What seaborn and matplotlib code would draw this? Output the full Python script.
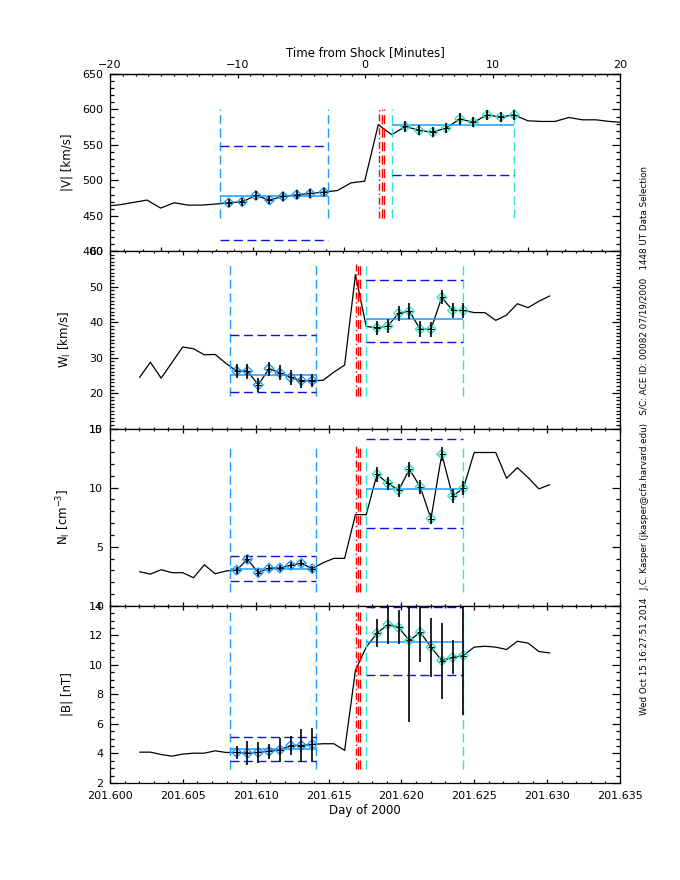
import matplotlib
matplotlib.use("Agg")
import matplotlib.pyplot as plt
from matplotlib.ticker import MultipleLocator, FixedLocator, FormatStrFormatter, NullFormatter
import numpy as np
import seaborn as sns


# 64-s samples, day of year 2000
TIME_DAY = [
    201.602026, 201.602767, 201.603508, 201.604249, 201.604989, 201.605730,
    201.606471, 201.607212, 201.607952, 201.608693, 201.609434, 201.610175,
    201.610915, 201.611656, 201.612397, 201.613138, 201.613878, 201.614619,
    201.615360, 201.616101, 201.616841, 201.617582, 201.618323, 201.619064,
    201.619804, 201.620545, 201.621286, 201.622027, 201.622767, 201.623508,
    201.624249, 201.624990, 201.625730, 201.626471, 201.627212, 201.627953,
    201.628693, 201.629434, 201.630175,
]

V_KMS = [
    463.7, 465.6, 468.9, 472.2, 460.9, 468.4, 465.1, 465.1, 466.5,
    468.4, 469.8, 478.7, 472.2, 477.3, 479.6, 481.5, 483.4,
    485.7, 496.5, 498.8, 578.4, 564.4,
    576.1, 570.4, 568.1, 573.7, 586.8, 581.7, 592.4, 589.2, 592.4,
    584.0, 583.1, 583.1, 588.7, 585.4, 585.4, 583.1, 581.7,
]

W_KMS = [
    24.4, 28.7, 24.2, 28.6, 33.0, 32.5, 30.8, 30.9, 28.4,
    26.2, 26.2, 22.3, 26.9, 25.7, 24.4, 23.5, 23.5,
    23.6, 25.9, 27.9, 53.4, 38.8,
    38.4, 38.9, 42.5, 43.1, 38.0, 38.0, 47.0, 43.3, 43.3,
    42.7, 42.7, 40.5, 42.0, 45.2, 44.1, 45.9, 47.4,
]

N_CM3 = [
    2.88, 2.68, 3.05, 2.80, 2.80, 2.37, 3.47, 2.71, 2.94,
    3.02, 3.93, 2.80, 3.19, 3.19, 3.42, 3.59, 3.14,
    3.64, 4.01, 4.01, 7.71, 7.71,
    11.13, 10.37, 9.77, 11.55, 10.06, 7.37, 12.82, 9.29, 9.94,
    12.97, 12.97, 12.97, 10.79, 11.69, 10.85, 9.89, 10.25,
]

B_NT = [
    4.09, 4.09, 3.93, 3.82, 3.96, 4.02, 4.02, 4.18, 4.07,
    4.07, 4.02, 4.07, 4.16, 4.25, 4.54, 4.54, 4.61,
    4.66, 4.66, 4.21, 9.62, 11.20,
    12.14, 12.73, 12.53, 11.65, 12.21, 11.20, 10.29, 10.50, 10.63,
    11.20, 11.26, 11.20, 11.04, 11.60, 11.47, 10.90, 10.81,
]

# selected samples (indices into the arrays above)
UP_IDX = list(range(9, 17))
DN_IDX = list(range(22, 31))

V_ERR_UP = [5.9, 5.9, 6.3, 5.9, 5.9, 6.3, 5.9, 5.9]
V_ERR_DN = [8.2, 7.0, 7.0, 7.5, 8.2, 7.0, 7.5, 7.0, 7.0]
W_ERR_UP = [2.0, 2.1, 2.0, 2.0, 2.1, 2.2, 2.0, 1.9]
W_ERR_DN = [2.0, 2.0, 2.1, 2.2, 2.2, 2.1, 2.0, 2.2, 2.2]
N_ERR_UP = [0.3, 0.35, 0.3, 0.25, 0.25, 0.25, 0.25, 0.25]
N_ERR_DN = [0.64, 0.56, 0.56, 0.62, 0.56, 0.47, 0.6, 0.56, 0.6]
B_ERR_UP = [0.42, 0.8, 0.7, 0.5, 0.8, 0.67, 1.1, 1.1]
B_ERR_DN = [0.96, 1.3, 1.15, 5.5, 2.0, 2.0, 2.57, 1.15, 4.0]

# mean, upper, lower of each selection
V_UP = [477.3, 548.4, 415.5]
V_DN = [577.9, 656.0, 507.7]
W_UP = [25.0, 36.5, 20.3]
W_DN = [41.0, 51.9, 34.3]
N_UP = [3.14, 4.24, 2.12]
N_DN = [9.92, 14.15, 6.55]
B_UP = [4.30, 5.13, 3.48]
B_DN = [11.53, 13.90, 9.30]

# vertical extent of the marker lines in each panel
V_SPAN = [447.4, 600.0]
W_SPAN = [19.1, 56.3]
N_SPAN = [1.2, 13.6]
B_SPAN = [2.92, 13.56]

SHOCK_DAY = 201.61612
UP_EDGES = [201.60824, 201.61411]
DN_EDGES = [201.617582, 201.624249]
RED_TIMES = [201.61686, 201.61702, 201.61716]

MINUTE_TICKS = [-20, -10, 0, 10, 20]
DAY_TICKS = [201.605, 201.610, 201.615, 201.620, 201.625]

RIGHT_TEXT = ("Wed Oct 15 16:27:51 2014   J.C. Kasper (jkasper@cfa.harvard.edu)   "
              "S/C: ACE ID: 00082 07/19/2000   1448 UT Data Selection")

UP_COLOR = "#1e9bff"
DN_COLOR = "#2ee6c8"
DASH_BLUE = "#1010e0"
DASHED = (0, (6.5, 3.2))
DASHDOT = (0, (5, 2, 1, 2))


def to_minutes(days):
    return [(d - SHOCK_DAY) * 1440.0 for d in days]


def draw_panel(ax, xconv, values, err_up, err_dn, up_lv, dn_lv, span):

    x = xconv(TIME_DAY)

    sns.lineplot(x=x, y=values, color="k", lw=0.9, ax=ax,
                 estimator=None, sort=False)

    up_e = xconv(UP_EDGES)
    dn_e = xconv(DN_EDGES)

    # selection boundaries and shock times
    ax.vlines(up_e, span[0], span[1], colors=UP_COLOR, linestyles=DASHED, lw=1)
    ax.vlines(dn_e, span[0], span[1], colors=DN_COLOR, linestyles=DASHED, lw=1)
    red_x = xconv(RED_TIMES)
    for i, rx in enumerate(red_x):
        ax.vlines(rx, span[0], span[1], colors="red",
                  linestyles=DASHDOT if i == 0 else DASHED, lw=1)

    # mean and limits
    ax.hlines(up_lv[0], up_e[0], up_e[1], colors=UP_COLOR, lw=1.1)
    ax.hlines(up_lv[1:], up_e[0], up_e[1], colors=DASH_BLUE, linestyles=DASHED, lw=1)
    ax.hlines(dn_lv[0], dn_e[0], dn_e[1], colors=UP_COLOR, lw=1.1)
    ax.hlines(dn_lv[1:], dn_e[0], dn_e[1], colors=DASH_BLUE, linestyles=DASHED, lw=1)

    for idx, err, col in [(UP_IDX, err_up, UP_COLOR), (DN_IDX, err_dn, DN_COLOR)]:
        xs = [x[i] for i in idx]
        ys = [values[i] for i in idx]
        ax.scatter(xs, ys, marker="D", s=24, facecolors="none",
                   edgecolors=col, linewidths=1.0, zorder=3)
        ax.errorbar(xs, ys, yerr=err, fmt="+", color="k", ms=4, mew=0.8,
                    elinewidth=1.2, capsize=0, zorder=4)


def style_y(ax, lo, hi, major, minor, label):

    ax.set_ylim(lo, hi)
    ax.yaxis.set_major_locator(MultipleLocator(major))
    ax.yaxis.set_minor_locator(MultipleLocator(minor))
    ax.yaxis.set_major_formatter(FormatStrFormatter("%d"))
    ax.set_ylabel(label)
    ax.yaxis.set_label_coords(-0.072, 0.5)
    ax.tick_params(axis="y", which="both", direction="in", left=True, right=True)
    ax.tick_params(axis="y", which="major", length=6, width=0.9, pad=5)
    ax.tick_params(axis="y", which="minor", length=3.2, width=0.9)


def style_day_x(ax, labels):

    ax.set_xlim(201.600, 201.635)
    ax.xaxis.set_major_locator(MultipleLocator(0.005))
    ax.xaxis.set_minor_locator(MultipleLocator(0.001))
    ax.xaxis.set_major_formatter(FormatStrFormatter("%.3f"))
    ax.tick_params(axis="x", which="both", direction="in", top=True, bottom=True,
                   labelbottom=labels)
    ax.tick_params(axis="x", which="major", length=3, width=0.9, pad=6)
    ax.tick_params(axis="x", which="minor", length=1.6, width=0.9)


def make_figure():

    sns.set_style("ticks")
    plt.rcParams["font.family"] = ["DejaVu Sans"]
    plt.rcParams["font.size"] = 8
    plt.rcParams["axes.edgecolor"] = "black"
    plt.rcParams["axes.linewidth"] = 0.9
    plt.rcParams["xtick.color"] = "black"
    plt.rcParams["ytick.color"] = "black"
    plt.rcParams["text.color"] = "black"
    plt.rcParams["axes.labelcolor"] = "black"
    plt.rcParams["axes.labelsize"] = 8.5

    fig, axes = plt.subplots(4, 1, figsize=(6.8, 8.8), dpi=100)
    fig.subplots_adjust(left=0.1618, right=0.9118, top=0.9159, bottom=0.1102,
                        hspace=0)
    ax1, ax2, ax3, ax4 = axes

    ident = lambda d: list(d)

    draw_panel(ax1, to_minutes, V_KMS, V_ERR_UP, V_ERR_DN, V_UP, V_DN, V_SPAN)
    draw_panel(ax2, ident, W_KMS, W_ERR_UP, W_ERR_DN, W_UP, W_DN, W_SPAN)
    draw_panel(ax3, ident, N_CM3, N_ERR_UP, N_ERR_DN, N_UP, N_DN, N_SPAN)
    draw_panel(ax4, ident, B_NT, B_ERR_UP, B_ERR_DN, B_UP, B_DN, B_SPAN)

    style_y(ax1, 400, 650, 50, 10, "|V| [km/s]")
    style_y(ax2, 10, 60, 10, 1, r"W$_\mathrm{I}$ [km/s]")
    style_y(ax3, 0, 15, 5, 1, r"N$_\mathrm{I}$ [cm$^{-3}$]")
    style_y(ax4, 2, 14, 2, 0.5, "|B| [nT]")

    # top panel: minutes from shock, with day ticks (unlabelled) underneath
    ax1.set_xlim(-20, 20)
    ax1.xaxis.set_major_locator(FixedLocator(to_minutes(DAY_TICKS)))
    ax1.xaxis.set_minor_locator(FixedLocator(to_minutes(np.arange(201.603, 201.6295, 0.001))))
    ax1.xaxis.set_major_formatter(NullFormatter())
    ax1.tick_params(axis="x", which="both", direction="in", top=False, bottom=True,
                    labelbottom=False)
    ax1.tick_params(axis="x", which="major", length=3, width=0.9)
    ax1.tick_params(axis="x", which="minor", length=1.6, width=0.9)

    sec = ax1.secondary_xaxis("top")
    sec.xaxis.set_major_locator(FixedLocator(MINUTE_TICKS))
    sec.xaxis.set_minor_locator(FixedLocator(list(range(-19, 20))))
    sec.tick_params(which="both", direction="in")
    sec.tick_params(which="major", length=3, width=0.9, pad=3)
    sec.tick_params(which="minor", length=1.6, width=0.9)
    sec.set_xlabel("Time from Shock [Minutes]", labelpad=3)

    style_day_x(ax2, False)
    style_day_x(ax3, False)
    style_day_x(ax4, True)
    ax4.set_xlabel("Day of 2000", labelpad=2)

    fig.text(0.9485, 0.499, RIGHT_TEXT, rotation=90, ha="center", va="center",
             fontsize=6.3)

    fig.savefig("out.png", dpi=100, facecolor="white")
    plt.close(fig)


if __name__ == "__main__":

    make_figure()
